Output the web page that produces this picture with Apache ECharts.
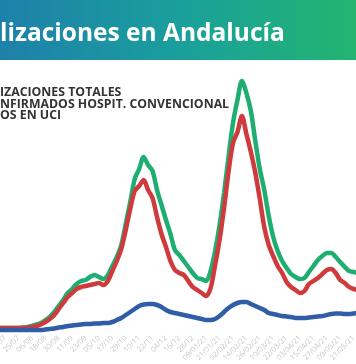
<!DOCTYPE html>
<html>
<head>
<meta charset="utf-8">
<script src="https://cdn.jsdelivr.net/npm/echarts@6/dist/echarts.min.js"></script>
<style>
html,body{margin:0;padding:0;background:#fff;}
#c{width:356px;height:364px;}
</style>
</head>
<body>
<div id="c"></div>
<script>
const titleText = 'lizaciones en Andalucía';
const legendTexts = ['IZACIONES TOTALES', 'NFIRMADOS HOSPIT. CONVENCIONAL', 'OS EN UCI'];

const categories = ['05/07','09/07','13/07','17/07','21/07','25/07','29/07',
'02/08','06/08','10/08','14/08','18/08','22/08','26/08','30/08',
'03/09','07/09','11/09','15/09','19/09','23/09','27/09',
'01/10','05/10','09/10','13/10','17/10','21/10','25/10','29/10',
'02/11','06/11','10/11','14/11','18/11','22/11','26/11','30/11',
'04/12','08/12','12/12','16/12','20/12','24/12','28/12',
'01/01/21','05/01/21','09/01/21','13/01/21','17/01/21','21/01/21','25/01/21','29/01/21',
'02/02/21','06/02/21','10/02/21','14/02/21','18/02/21','22/02/21','26/02/21',
'02/03/21','06/03/21','10/03/21','14/03/21','18/03/21','22/03/21','26/03/21','30/03/21',
'03/04/21','07/04/21','11/04/21','15/04/21','19/04/21','23/04/21','27/04/21',
'01/05/21','05/05/21','09/05/21','13/05/21','17/05/21','21/05/21','25/05/21'];

const tickLabels = ['13/07','25/07','06/08','18/08','30/08','11/09','23/09','05/10','17/10','29/10',
'10/11','22/11','04/12','16/12','28/12','09/01/21','21/01/21','02/02/21','14/02/21','26/02/21',
'10/03/21','22/03/21','03/04/21','15/04/21','27/04/21','09/05/21','21/05/21'];

const totales = [60,60,60,60,60,60,70,80,100,130,160,220,280,380,500,620,760,840,940,1000,
1020,1080,1120,1080,1040,1120,1300,1480,1720,2140,2580,3040,3240,3480,3320,3200,2820,2520,2220,1940,
1620,1520,1400,1280,1160,1060,1040,1000,1200,1600,2120,2760,3480,4160,4620,5000,4760,4400,3800,3240,
2820,2300,1880,1600,1400,1260,1140,1080,1040,1060,1180,1300,1420,1500,1560,1560,1480,1380,1280,1200,
1180,1160];

const convencional = [60,60,60,60,60,60,60,70,80,100,130,180,240,320,440,560,680,760,840,880,
900,920,940,960,920,1000,1200,1400,1640,2020,2440,2800,2900,3020,2820,2660,2280,1940,1680,1400,
1220,1160,1120,1000,880,820,760,700,860,1320,1820,2460,3180,3760,3980,4300,3940,3580,3160,2640,
2080,1720,1500,1300,1160,980,880,820,760,800,940,1000,1060,1140,1220,1240,1160,1020,960,880,
840,820];

const uci = [20,20,20,20,20,20,20,20,20,20,20,30,40,50,70,80,100,110,120,130,
140,140,150,150,160,160,180,220,260,320,380,440,500,530,540,540,520,480,420,380,
360,340,320,300,280,260,240,220,220,240,300,380,460,520,560,580,580,540,500,460,
420,360,340,320,300,290,280,260,260,260,270,280,290,300,320,340,350,350,340,340,
350,360];

const chart = echarts.init(document.getElementById('c'), null, {renderer:'canvas'});
const FONT = '"Open Sans", "Noto Sans", sans-serif';
chart.setOption({
  animation: false,
  backgroundColor: '#ffffff',
  grid: { left: -3.84, right: -2.1, top: 31, bottom: 33, containLabel: false, outerBoundsMode: 'none' },
  xAxis: {
    type: 'category',
    data: categories,
    boundaryGap: false,
    axisLine: { show: false },
    axisTick: { show: false },
    splitLine: { show: false },
    axisLabel: {
      rotate: 45,
      fontSize: 7.5,
      color: '#c8c8c8',
      fontFamily: FONT,
      margin: 6,
      interval: function (idx, val) { return tickLabels.indexOf(val) >= 0; }
    }
  },
  yAxis: {
    type: 'value', min: 0, max: 6000,
    show: false,
    splitLine: { show: false }
  },
  series: [
    { name: 'totales', type: 'line', data: totales, showSymbol: false, smooth: 0.3,
      lineStyle: { color: '#1fae72', width: 4.5 }, itemStyle: { color: '#1fae72' }, z: 2 },
    { name: 'convencional', type: 'line', data: convencional, showSymbol: false, smooth: 0.3,
      lineStyle: { color: '#cf3a3c', width: 4.5 }, itemStyle: { color: '#cf3a3c' }, z: 3 },
    { name: 'uci', type: 'line', data: uci, showSymbol: false, smooth: 0.3,
      lineStyle: { color: '#2f5ea6', width: 4.5 }, itemStyle: { color: '#2f5ea6' }, z: 4 }
  ],
  graphic: [
    { type: 'rect', left: 0, top: 0, z: 10,
      shape: { width: 356, height: 60 },
      style: { fill: new echarts.graphic.LinearGradient(0, 0, 1, 0, [
        { offset: 0, color: '#1e80aa' },
        { offset: 0.5, color: '#1a9f9c' },
        { offset: 1, color: '#22b570' }
      ]) } },
    { type: 'text', x: 0, y: 22, z: 11,
      style: { text: titleText, fill: '#ffffff', font: '700 24.5px ' + FONT } },
    { type: 'text', x: 0, y: 86.5, z: 11,
      style: { text: legendTexts[0], fill: '#333333', font: '700 12.3px ' + FONT } },
    { type: 'text', x: 0, y: 98, z: 11,
      style: { text: legendTexts[1], fill: '#333333', font: '700 12.3px ' + FONT } },
    { type: 'text', x: 0, y: 109.5, z: 11,
      style: { text: legendTexts[2], fill: '#333333', font: '700 12.3px ' + FONT } }
  ]
});
</script>
</body>
</html>
